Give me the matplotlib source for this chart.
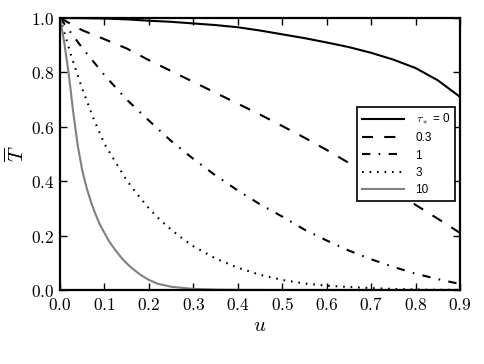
import matplotlib
matplotlib.use("Agg")
import matplotlib.pyplot as plt
import numpy as np

plt.rcParams['mathtext.fontset'] = 'cm'
plt.rcParams['lines.scale_dashes'] = False

# ---- data ----
u_a = [0.0, 0.05, 0.1, 0.15, 0.2, 0.25, 0.3, 0.35, 0.4, 0.45, 0.5, 0.55,
       0.6, 0.65, 0.7, 0.75, 0.8, 0.85, 0.9]
T_tau0 = [1.0, 0.9995, 0.998, 0.995, 0.99, 0.986, 0.98, 0.974, 0.966, 0.954,
          0.94, 0.926, 0.91, 0.893, 0.872, 0.847, 0.816, 0.771, 0.71]
T_tau03 = [1.0, 0.955, 0.922, 0.888, 0.845, 0.805, 0.765, 0.725, 0.685, 0.645,
           0.603, 0.56, 0.515, 0.467, 0.418, 0.367, 0.313, 0.262, 0.21]
T_tau1 = [1.0, 0.89, 0.79, 0.70, 0.623, 0.548, 0.482, 0.421, 0.366, 0.315,
          0.27, 0.222, 0.182, 0.145, 0.113, 0.085, 0.06, 0.04, 0.022]

u_b = [0.0, 0.025, 0.05, 0.075, 0.1, 0.125, 0.15, 0.175, 0.2, 0.225, 0.25,
       0.275, 0.3, 0.35, 0.4, 0.45, 0.5, 0.55, 0.6, 0.65, 0.7, 0.75, 0.8,
       0.85, 0.9]
T_tau3 = [1.0, 0.862, 0.74, 0.632, 0.537, 0.47, 0.403, 0.35, 0.30, 0.258,
          0.222, 0.19, 0.161, 0.116, 0.082, 0.056, 0.037, 0.024, 0.016, 0.011,
          0.007, 0.004, 0.002, 0.001, 0.0005]

u_c = [0.0, 0.01, 0.02, 0.03, 0.04, 0.05, 0.06, 0.07, 0.08, 0.09, 0.1, 0.11,
       0.12, 0.13, 0.14, 0.15, 0.16, 0.18, 0.2, 0.22, 0.25, 0.3, 0.35, 0.4,
       0.5, 0.6, 0.7, 0.8, 0.9]
T_tau10 = [1.0, 0.905, 0.79, 0.65, 0.53, 0.44, 0.375, 0.322, 0.278, 0.24, 0.21,
           0.18, 0.157, 0.135, 0.115, 0.098, 0.083, 0.057, 0.037, 0.023, 0.012,
           0.004, 0.0015, 0.0005, 0.0001, 0.0, 0.0, 0.0, 0.0]

labels = [r'$\tau_*$ = 0', '0.3', '1', '3', '10']
xticks = [0.0, 0.1, 0.2, 0.3, 0.4, 0.5, 0.6, 0.7, 0.8, 0.9]
yticks = [0.0, 0.2, 0.4, 0.6, 0.8, 1.0]

fig = plt.figure(figsize=(4.85, 3.64), dpi=100)
ax = fig.add_axes([60/485, 74/364, 400/485, 272/364])

lw = 1.5
ax.plot(u_a, T_tau0, color='black', lw=lw, ls='-', label=labels[0])
ax.plot(u_a, T_tau03, color='black', lw=lw, ls=(0, (8, 8)), label=labels[1])
ax.plot(u_a, T_tau1, color='black', lw=lw, ls=(0, (6, 6, 1.2, 6)), label=labels[2])
ax.plot(u_b, T_tau3, color='black', lw=lw, ls=(0, (1.2, 4.2)), label=labels[3])
ax.plot(u_c, T_tau10, color='#808080', lw=lw, ls='-', label=labels[4])

ax.set_xlim(0, 0.9)
ax.set_ylim(0, 1.0)
ax.set_xticks(xticks)
ax.set_yticks(yticks)
ax.set_xticklabels(['$%.1f$' % v for v in xticks], fontsize=12.5)
ax.set_yticklabels(['$%.1f$' % v for v in yticks], fontsize=12.5)
ax.tick_params(direction='in', length=5, width=1, top=True, right=True, pad=4)
for s in ax.spines.values():
    s.set_linewidth(1.6)

ax.set_xlabel(r'$u$', fontsize=15, labelpad=1)
ax.set_ylabel(r'$\overline{T}$', fontsize=15, labelpad=2)

leg = ax.legend(loc='center right', prop={'family': 'Liberation Sans', 'size': 8.5},
                handlelength=3.5, labelspacing=0.45, borderpad=0.45,
                handletextpad=1.0, fancybox=False, framealpha=1,
                borderaxespad=0.4)
leg.get_frame().set_edgecolor('black')
leg.get_frame().set_linewidth(1.2)

fig.savefig('out.png', dpi=100)
